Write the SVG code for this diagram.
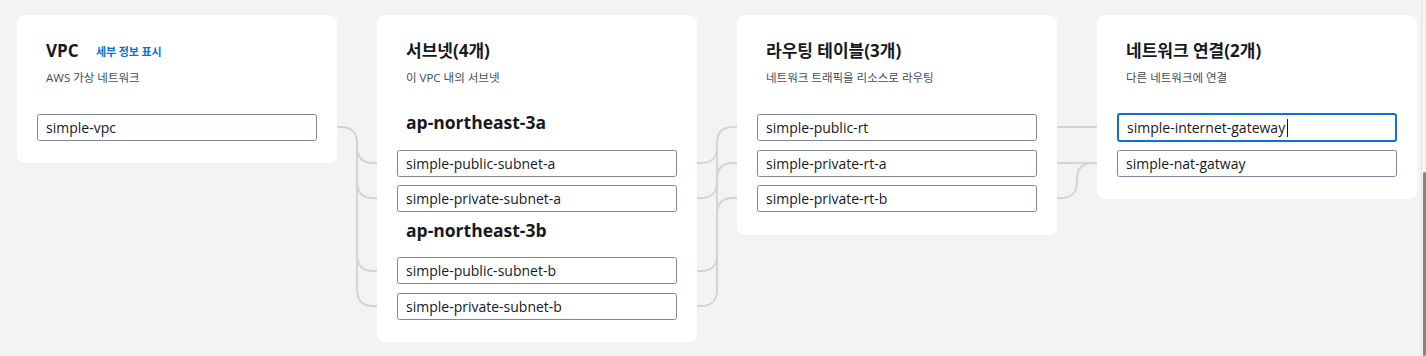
<svg xmlns="http://www.w3.org/2000/svg" width="1426" height="356" viewBox="0 0 1426 356">
<style>
.card{fill:#ffffff}
.title{font-family:"Open Sans","Noto Sans CJK KR",sans-serif;font-weight:700;font-size:17px;fill:#16191f}
.az{font-family:"Open Sans","Noto Sans CJK KR",sans-serif;font-weight:700;font-size:17.5px;fill:#16191f}
.sub{font-family:"Open Sans","Noto Sans CJK KR",sans-serif;font-size:11.5px;fill:#414d5c}
.link{font-family:"Noto Sans CJK KR",sans-serif;font-weight:700;font-size:11px;fill:#0972d3}
.box{fill:#ffffff;stroke:#7d8998;stroke-width:1}
.focus{fill:#ffffff;stroke:#0972d3;stroke-width:2}
.lbl{font-family:"Open Sans","Noto Sans CJK KR",sans-serif;font-size:14px;fill:#16191f}
.conn{fill:none;stroke:#d1d5d5;stroke-width:2}
</style>
<rect width="1426" height="356" fill="#f2f3f3"/>
<line x1="1421.5" y1="0" x2="1421.5" y2="356" stroke="#e3e4e4" stroke-width="1"/>
<rect x="1423" y="172" width="3" height="184" rx="1.5" fill="#858585"/>

<g id="connectors">
  <path class="conn" d="M316,127 H341 C352,127 357,132 357,143 V146 C357,157 362,163 373,163 H397"/>
  <path class="conn" d="M357,146 V181 C357,192 362,198 373,198 H397"/>
  <path class="conn" d="M357,181 V254 C357,265 362,271 373,271 H397"/>
  <path class="conn" d="M357,254 V289 C357,300 362,306 373,306 H397"/>
  <path class="conn" d="M677,163 H700 C712,163 717,158 717,147 V143 C717,132 722,127 733,127 H757"/>
  <path class="conn" d="M677,198 H700 C712,198 717,193 717,182 V179 C717,168 722,163 733,163 H757"/>
  <path class="conn" d="M677,271 H700 C712,271 717,266 717,255 V143"/>
  <path class="conn" d="M677,306 H700 C712,306 717,301 717,290 V214 C717,203 722,198 733,198 H757"/>
  <path class="conn" d="M1036,127 H1117"/>
  <path class="conn" d="M1036,163 H1117"/>
  <path class="conn" d="M1036,198 H1060 C1072,198 1077,193 1077,182 V179 C1077,168 1082,163 1093,163 H1117"/>
</g>

<g id="vpc-card">
  <rect class="card" x="17" y="15" width="320" height="148" rx="8"/>
  <text class="title" x="46" y="57">VPC</text>
  <text class="link" x="96" y="56">세부 정보 표시</text>
  <text class="sub" x="46" y="82">AWS 가상 네트워크</text>
</g>
<g id="simple-vpc">
  <rect class="box" x="37.5" y="114.5" width="279" height="26" rx="2"/>
  <text class="lbl" x="46" y="132.5">simple-vpc</text>
</g>

<g id="subnet-card">
  <rect class="card" x="377" y="15" width="320" height="327" rx="8"/>
  <text class="title" x="406" y="57">서브넷(4개)</text>
  <text class="sub" x="406" y="82">이 VPC 내의 서브넷</text>
  <text class="az" x="406" y="129">ap-northeast-3a</text>
  <text class="az" x="406" y="237">ap-northeast-3b</text>
</g>
<g id="simple-public-subnet-a">
  <rect class="box" x="397.5" y="150.5" width="279" height="26" rx="2"/>
  <text class="lbl" x="406" y="168.5">simple-public-subnet-a</text>
</g>
<g id="simple-private-subnet-a">
  <rect class="box" x="397.5" y="185.5" width="279" height="26" rx="2"/>
  <text class="lbl" x="406" y="203.5">simple-private-subnet-a</text>
</g>
<g id="simple-public-subnet-b">
  <rect class="box" x="397.5" y="257.5" width="279" height="26" rx="2"/>
  <text class="lbl" x="406" y="276">simple-public-subnet-b</text>
</g>
<g id="simple-private-subnet-b">
  <rect class="box" x="397.5" y="293.5" width="279" height="26" rx="2"/>
  <text class="lbl" x="406" y="311.5">simple-private-subnet-b</text>
</g>

<g id="route-card">
  <rect class="card" x="737" y="15" width="320" height="220" rx="8"/>
  <text class="title" x="766" y="57">라우팅 테이블(3개)</text>
  <text class="sub" x="766" y="82">네트워크 트래픽을 리소스로 라우팅</text>
</g>
<g id="simple-public-rt">
  <rect class="box" x="757.5" y="114.5" width="279" height="26" rx="2"/>
  <text class="lbl" x="766" y="132.5">simple-public-rt</text>
</g>
<g id="simple-private-rt-a">
  <rect class="box" x="757.5" y="150.5" width="279" height="26" rx="2"/>
  <text class="lbl" x="766" y="168.5">simple-private-rt-a</text>
</g>
<g id="simple-private-rt-b">
  <rect class="box" x="757.5" y="185.5" width="279" height="26" rx="2"/>
  <text class="lbl" x="766" y="203.5">simple-private-rt-b</text>
</g>

<g id="network-card">
  <rect class="card" x="1097" y="15" width="320" height="184" rx="8"/>
  <text class="title" x="1126" y="57">네트워크 연결(2개)</text>
  <text class="sub" x="1126" y="82">다른 네트워크에 연결</text>
</g>
<g id="simple-internet-gateway">
  <rect class="focus" x="1118" y="114" width="278" height="27" rx="2"/>
  <text class="lbl" x="1127" y="132.5">simple-internet-gateway</text>
  <line x1="1287.5" y1="119" x2="1287.5" y2="137" stroke="#16191f" stroke-width="1"/>
</g>
<g id="simple-nat-gatway">
  <rect class="box" x="1117.5" y="150.5" width="279" height="26" rx="2"/>
  <text class="lbl" x="1126" y="168.5">simple-nat-gatway</text>
</g>
</svg>
